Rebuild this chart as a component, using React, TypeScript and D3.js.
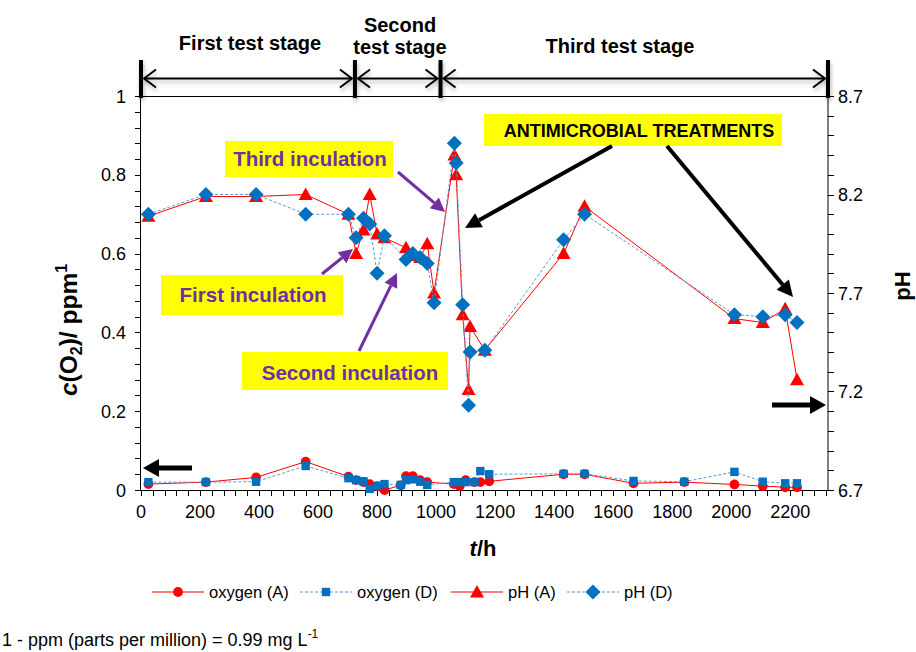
import React from "react";
import * as d3 from "d3";

// ---------- data ----------
const timesPH = [25, 220, 390, 558, 703, 729, 754, 775, 800, 825, 898, 921, 946, 970, 993, 1062, 1068, 1090, 1110, 1115, 1165, 1432, 1503, 2011, 2107, 2183, 2223];
const phA = [8.09, 8.19, 8.19, 8.2, 8.1, 7.9, 8.02, 8.2, 8.0, 7.98, 7.93, 7.89, 7.88, 7.95, 7.7, 8.4, 8.3, 7.59, 7.21, 7.53, 7.41, 7.9, 8.14, 7.57, 7.55, 7.62, 7.26];
const phD = [8.1, 8.2, 8.2, 8.1, 8.1, 7.98, 8.08, 8.05, 7.8, 7.99, 7.87, 7.9, 7.88, 7.85, 7.65, 8.46, 8.36, 7.64, 7.13, 7.4, 7.41, 7.97, 8.1, 7.59, 7.58, 7.59, 7.55];

const timesO2 = [25, 220, 390, 558, 703, 729, 754, 775, 800, 825, 880, 898, 921, 946, 970, 1060, 1080, 1100, 1130, 1150, 1180, 1432, 1503, 1669, 1841, 2011, 2107, 2183, 2223];
const oxyA = [0.015, 0.02, 0.032, 0.072, 0.034, 0.025, 0.02, 0.015, 0.01, 0.0, 0.012, 0.035, 0.035, 0.025, 0.02, 0.015, 0.01, 0.025, 0.02, 0.02, 0.022, 0.04, 0.04, 0.017, 0.02, 0.014, 0.01, 0.007, 0.007];
const oxyD = [0.02, 0.02, 0.021, 0.061, 0.03, 0.025, 0.022, 0.003, 0.01, 0.015, 0.013, 0.025, 0.027, 0.021, 0.013, 0.02, 0.02, 0.02, 0.02, 0.048, 0.04, 0.041, 0.041, 0.023, 0.021, 0.046, 0.021, 0.017, 0.017];

const xTicks = [0, 200, 400, 600, 800, 1000, 1200, 1400, 1600, 1800, 2000, 2200];
const leftTicks = [0, 0.2, 0.4, 0.6, 0.8, 1];
const rightTicks = [6.7, 7.2, 7.7, 8.2, 8.7];
const stageBounds = [0, 725, 1015, 2328];
const stageNames = [["First test stage"], ["Second", "test stage"], ["Third test stage"]];
const legendNames = ["oxygen (A)", "oxygen (D)", "pH (A)", "pH (D)"];

// ---------- layout ----------
const W = 916, H = 652;
const FONT = "'Liberation Sans', Arial, sans-serif";
const RED = "#FF0000";
const BLUE = "#0070C0";
const LBLUE = "#5B9BD5";
const PURPLE = "#7030A0";

const x = d3.scaleLinear().domain([0, 2328]).range([141, 828]);
const yL = d3.scaleLinear().domain([0, 1]).range([490, 96]);
const yR = d3.scaleLinear().domain([6.7, 8.7]).range([490, 96]);

const circlePath = d3.symbol().type(d3.symbolCircle).size(75)()!;
const squarePath = "M-4.2,-4.2H4.2V4.2H-4.2Z";
const triPath = "M0,-7L7,5.5L-7,5.5Z";
const diaPath = "M0,-7.5L7.5,0L0,7.5L-7.5,0Z";

function Arrow({ x1, y1, x2, y2, color, w, hl, hw }: any) {
  const ang = Math.atan2(y2 - y1, x2 - x1);
  const bx = x2 - hl * Math.cos(ang), by = y2 - hl * Math.sin(ang);
  const px = -Math.sin(ang) * hw, py = Math.cos(ang) * hw;
  return (
    <g>
      <line x1={x1} y1={y1} x2={bx} y2={by} stroke={color} strokeWidth={w} />
      <path d={`M${x2},${y2}L${bx + px},${by + py}L${bx - px},${by - py}Z`} fill={color} />
    </g>
  );
}

function Series({ ts, vs, y, color, dash, marker, fill }: any) {
  const line = d3.line<number>().x((_, i) => x(ts[i])).y((v) => y(v));
  return (
    <g>
      <path d={line(vs)!} fill="none" stroke={color} strokeWidth={1} strokeDasharray={dash} />
      {vs.map((v: number, i: number) => (
        <path key={i} d={marker} transform={`translate(${x(ts[i])},${y(v)})`} fill={fill} />
      ))}
    </g>
  );
}

export default function App() {
  const leftMinor = d3.range(0, 1.0001, 0.04);
  const rightMinor = d3.range(6.7, 8.7001, 0.1);
  const xMinor = d3.range(0, 2328, 40);
  const bandY = 78.5;
  const stageCx = [250, 400, 620];

  return (
    <svg width={W} height={H} style={{ position: "absolute", left: 0, top: 0, background: "#fff" }} fontFamily={FONT}>
      <defs>
        <filter id="sh" x="-5%" y="-50%" width="110%" height="200%">
          <feGaussianBlur in="SourceAlpha" stdDeviation="2" />
          <feOffset dx="1" dy="3" result="b" />
          <feComponentTransfer><feFuncA type="linear" slope="0.3" /></feComponentTransfer>
          <feMerge><feMergeNode /><feMergeNode in="SourceGraphic" /></feMerge>
        </filter>
      </defs>

      {/* stage band */}
      <g filter="url(#sh)">
        {stageBounds.slice(0, 3).map((b, i) => {
          const a = x(b) + 3, c = x(stageBounds[i + 1]) - 3;
          return (
            <g key={i} stroke="#000" strokeWidth={2} fill="none">
              <line x1={a} y1={bandY} x2={c} y2={bandY} />
              <path d={`M${a + 12},${bandY - 9}L${a},${bandY}L${a + 12},${bandY + 9}`} />
              <path d={`M${c - 12},${bandY - 9}L${c},${bandY}L${c - 12},${bandY + 9}`} />
            </g>
          );
        })}
        {stageBounds.map((b, i) => (
          <rect key={i} x={x(b) - 2} y={60} width={4} height={38} fill="#000" />
        ))}
      </g>
      <line x1={137} y1={96.5} x2={828} y2={96.5} stroke="#000" strokeWidth={1} />
      {stageNames.map((lines, i) =>
        lines.map((t, j) => (
          <text key={i + "-" + j} x={stageCx[i]} y={lines.length > 1 ? 32 + j * 22 : i === 0 ? 50 : 53} textAnchor="middle" fontSize={20} fontWeight="bold">{t}</text>
        ))
      )}

      {/* axes */}
      <g stroke="#000" strokeWidth={1}>
        <line x1={140.5} y1={96} x2={140.5} y2={490} />
        <line x1={828} y1={96} x2={828} y2={490} />
        <line x1={140} y1={490.5} x2={828} y2={490.5} />
        {leftMinor.map((v, i) => <line key={"l" + i} x1={135} x2={140} y1={Math.round(yL(v)) + 0.5} y2={Math.round(yL(v)) + 0.5} />)}
        {rightMinor.map((v, i) => <line key={"r" + i} x1={828} x2={834} y1={Math.round(yR(v)) + 0.5} y2={Math.round(yR(v)) + 0.5} />)}
        {xMinor.map((v, i) => <line key={"x" + i} x1={Math.round(x(v)) + 0.5} x2={Math.round(x(v)) + 0.5} y1={490} y2={496} />)}
      </g>
      <g fontSize={18} fill="#000">
        {leftTicks.map((v) => <text key={v} x={126} y={yL(v) + 6.5} textAnchor="end">{String(v)}</text>)}
        {rightTicks.map((v) => <text key={v} x={838} y={yR(v) + 6.5}>{v.toFixed(1)}</text>)}
        {xTicks.map((v) => <text key={v} x={x(v)} y={518} textAnchor="middle">{String(v)}</text>)}
      </g>
      <text transform="translate(77,330) rotate(-90)" textAnchor="middle" fontSize={24.5} fontWeight="bold">
        <tspan fontStyle="italic">c</tspan>(O<tspan fontSize={16} dy={5}>2</tspan><tspan dy={-5}>)/ ppm</tspan><tspan fontSize={16} dy={-10}>1</tspan>
      </text>
      <text transform="translate(910,286) rotate(-90)" textAnchor="middle" fontSize={22} fontWeight="bold">pH</text>
      <text x={483} y={556} textAnchor="middle" fontSize={22} fontWeight="bold"><tspan fontStyle="italic">t</tspan>/h</text>

      {/* series */}
      <Series ts={timesO2} vs={oxyA} y={yL} color={RED} marker={circlePath} fill={RED} />
      <Series ts={timesO2} vs={oxyD} y={yL} color={LBLUE} dash="3,2" marker={squarePath} fill={BLUE} />
      <Series ts={timesPH} vs={phA} y={yR} color={RED} marker={triPath} fill={RED} />
      <Series ts={timesPH} vs={phD} y={yR} color={LBLUE} dash="3,2" marker={diaPath} fill={BLUE} />

      {/* annotations */}
      <rect x={225} y={141} width={168} height={36} fill="#FFFF00" />
      <text x={310} y={166} textAnchor="middle" fontSize={20.5} fontWeight="bold" fill={PURPLE}>Third inculation</text>
      <Arrow x1={398} y1={172} x2={445} y2={212} color={PURPLE} w={3} hl={14} hw={7} />

      <rect x={161} y={275} width={182} height={40} fill="#FFFF00" />
      <text x={253} y={302} textAnchor="middle" fontSize={20.5} fontWeight="bold" fill={PURPLE}>First inculation</text>
      <Arrow x1={322} y1={274} x2={353} y2={249} color={PURPLE} w={3} hl={14} hw={7} />

      <rect x={242} y={352} width={206} height={38} fill="#FFFF00" />
      <text x={350} y={380} textAnchor="middle" fontSize={20.5} fontWeight="bold" fill={PURPLE}>Second inculation</text>
      <Arrow x1={359} y1={351} x2={397} y2={273} color={PURPLE} w={3} hl={14} hw={7} />

      <rect x={484} y={114} width={298} height={32} fill="#FFFF00" />
      <text x={639} y={137} textAnchor="middle" fontSize={18} fontWeight="bold" fill="#000">ANTIMICROBIAL TREATMENTS</text>
      <Arrow x1={612} y1={146} x2={465} y2={228} color="#000" w={4} hl={16} hw={8} />
      <Arrow x1={667} y1={146} x2={793} y2={297} color="#000" w={4} hl={16} hw={8} />

      <Arrow x1={192} y1={468} x2={143} y2={468} color="#000" w={5} hl={16} hw={9} />
      <Arrow x1={772} y1={405} x2={826} y2={405} color="#000" w={5} hl={16} hw={9} />

      {/* legend */}
      <g fontSize={16.5}>
        {legendNames.map((n, i) => {
          const lx = [152, 300, 451, 567][i];
          const mk = [circlePath, squarePath, triPath, diaPath][i];
          const col = i % 2 === 0 ? RED : LBLUE;
          const mf = i % 2 === 0 ? RED : BLUE;
          return (
            <g key={n}>
              <line x1={lx} x2={lx + 52} y1={592} y2={592} stroke={col} strokeWidth={1} strokeDasharray={i % 2 ? "3,2" : undefined} />
              <path d={mk} transform={`translate(${lx + 26},592)`} fill={mf} />
              <text x={lx + 57} y={598}>{n}</text>
            </g>
          );
        })}
      </g>
      <text x={2} y={646} fontSize={18}>1 - ppm (parts per million) = 0.99 mg L<tspan fontSize={12} dy={-8}>-1</tspan></text>
    </svg>
  );
}
